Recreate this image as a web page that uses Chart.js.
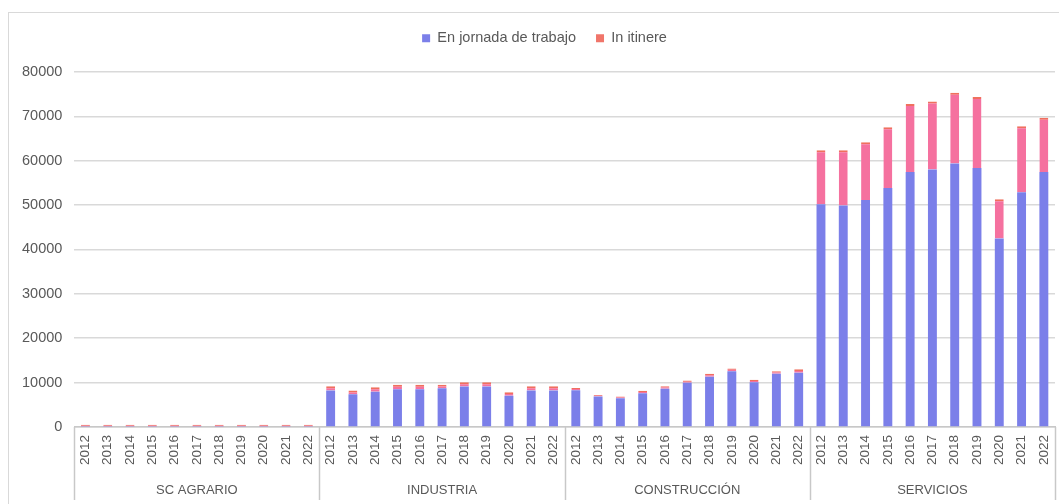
<!DOCTYPE html>
<html>
<head>
<meta charset="utf-8">
<script src="https://cdn.jsdelivr.net/npm/chart.js@4"></script>
<style>
  html, body { margin: 0; padding: 0; background: #fff; overflow: hidden; }
  #wrap { position: relative; width: 1059px; height: 504px; }
</style>
</head>
<body>
<div id="wrap"><canvas id="accidentesChart" width="1059" height="504"></canvas></div>
<script>
// Sectors and years on the two-level category axis
var sectores = ['SC AGRARIO', 'INDUSTRIA', 'CONSTRUCCIÓN', 'SERVICIOS'];
var anios = ['2012', '2013', '2014', '2015', '2016', '2017', '2018', '2019', '2020', '2021', '2022'];

// En jornada de trabajo, one list per sector (2012..2022)
var jornadaAgrario = [100, 100, 100, 100, 100, 100, 100, 100, 100, 100, 100];
var jornadaIndustria = [8200, 7390, 7910, 8520, 8520, 8740, 9110, 9110, 7010, 8200, 8200];
var jornadaConstruccion = [8290, 6850, 6480, 7610, 8590, 9940, 11300, 12580, 10100, 11980, 12200];
var jornadaServicios = [50170, 49940, 51140, 53860, 57480, 58000, 59360, 58380, 42490, 52880, 57480];

// In itinere, one list per sector (2012..2022)
var itinereAgrario = [400, 400, 400, 400, 400, 400, 400, 400, 400, 400, 400];
var itinereIndustria = [1000, 810, 1060, 970, 970, 750, 990, 990, 830, 1000, 1000];
var itinereConstruccion = [520, 380, 370, 530, 610, 530, 680, 600, 520, 600, 830];
var itinereServicios = [12200, 12430, 13040, 13710, 15290, 15370, 15970, 15970, 8810, 14920, 12200];

var yTicks = [0, 10000, 20000, 30000, 40000, 50000, 60000, 70000, 80000];

var labels = [];
sectores.forEach(function(s) {
    anios.forEach(function(a) { labels.push(a); });
});
var jornada = [].concat(jornadaAgrario, jornadaIndustria, jornadaConstruccion, jornadaServicios);
var itinere = [].concat(itinereAgrario, itinereIndustria, itinereConstruccion, itinereServicios);

var gris = '#595959';
var linea = '#d9d9d9';
var fuente = '"Liberation Sans", Arial, sans-serif';

// Sector names and separator lines under the year labels, plus the outer frame
var sectorAxis = {
    id: 'sectorAxis',
    afterLayout: function(chart) {
        // nudge the legend a little to the right
        chart.legend.left += 12;
        chart.legend.right += 12;
    },
    beforeDraw: function(chart) {
        var c = chart.ctx;
        c.save();
        c.strokeStyle = linea;
        c.lineWidth = 1;
        c.strokeRect(8.5, 12.5, 1200, 600);
        c.restore();
    },
    afterDraw: function(chart) {
        var c = chart.ctx;
        var x = chart.scales.x;
        var bottom = chart.chartArea.bottom;
        var n = anios.length;
        var half = (x.getPixelForValue(1) - x.getPixelForValue(0)) / 2;
        c.save();
        c.strokeStyle = '#c8c8c8';
        c.lineWidth = 1.5;
        for (var i = 0; i <= sectores.length; i++) {
            var px = i < sectores.length ? x.getPixelForValue(i * n) - half : x.getPixelForValue(i * n - 1) + half;
            px = Math.round(px) + 0.5;
            c.beginPath();
            c.moveTo(px, bottom);
            c.lineTo(px, 500);
            c.stroke();
        }
        c.fillStyle = gris;
        c.font = '13px ' + fuente;
        c.textAlign = 'center';
        c.textBaseline = 'middle';
        sectores.forEach(function(s, i) {
            var a = x.getPixelForValue(i * n) - half;
            var b = x.getPixelForValue(i * n + n - 1) + half;
            c.fillText(s, (a + b) / 2, 490);
        });
        c.restore();
    }
};

var ctx = document.getElementById('accidentesChart').getContext('2d');
var accidentesChart = new Chart(ctx, {
    type: 'bar',
    data: {
        labels: labels,
        datasets: [{
            label: 'En jornada de trabajo',
            data: jornada,
            backgroundColor: '#7b7fe9',
            borderWidth: 0,
            categoryPercentage: 1,
            barPercentage: 0.4
        }, {
            label: 'In itinere',
            data: itinere,
            backgroundColor: '#f5719f',
            borderColor: '#f0705e',
            borderWidth: {top: 2, left: 0, right: 0, bottom: 0},
            borderSkipped: false,
            categoryPercentage: 1,
            barPercentage: 0.4
        }]
    },
    options: {
        responsive: false,
        animation: false,
        layout: {
            padding: {left: 10, right: 4, top: 11, bottom: 31}
        },
        plugins: {
            legend: {
                position: 'top',
                labels: {
                    color: gris,
                    boxWidth: 8,
                    boxHeight: 8,
                    padding: 20,
                    font: {family: fuente, size: 14.5},
                    generateLabels: function(chart) {
                        return chart.data.datasets.map(function(d, i) {
                            return {
                                text: d.label,
                                fillStyle: i === 0 ? '#7b7fe9' : '#f0756a',
                                strokeStyle: 'rgba(0,0,0,0)',
                                lineWidth: 0,
                                fontColor: gris,
                                datasetIndex: i
                            };
                        });
                    }
                }
            },
            // empty spacer between the legend and the plot
            subtitle: {
                display: true,
                text: '',
                weight: 500,
                font: {size: 10},
                padding: {top: 2, bottom: 2.5}
            },
            tooltip: {enabled: false}
        },
        scales: {
            x: {
                stacked: true,
                grid: {display: false, drawTicks: false},
                border: {color: '#c8c8c8', width: 1.5},
                afterFit: function(axis) {
                    axis.paddingLeft = 0;
                    axis.paddingRight = 0;
                },
                ticks: {
                    color: gris,
                    font: {family: fuente, size: 13.5},
                    maxRotation: 90,
                    minRotation: 90,
                    autoSkip: false,
                    padding: 8
                }
            },
            y: {
                stacked: true,
                min: 0,
                max: 80000,
                afterBuildTicks: function(axis) {
                    axis.ticks = yTicks.map(function(v) { return {value: v}; });
                },
                grid: {color: linea, lineWidth: 1.5, drawTicks: false},
                border: {display: false},
                ticks: {
                    color: gris,
                    font: {family: fuente, size: 14.5},
                    padding: 12,
                    callback: function(v) { return String(v); }
                }
            }
        }
    },
    plugins: [sectorAxis]
});
</script>
</body>
</html>
